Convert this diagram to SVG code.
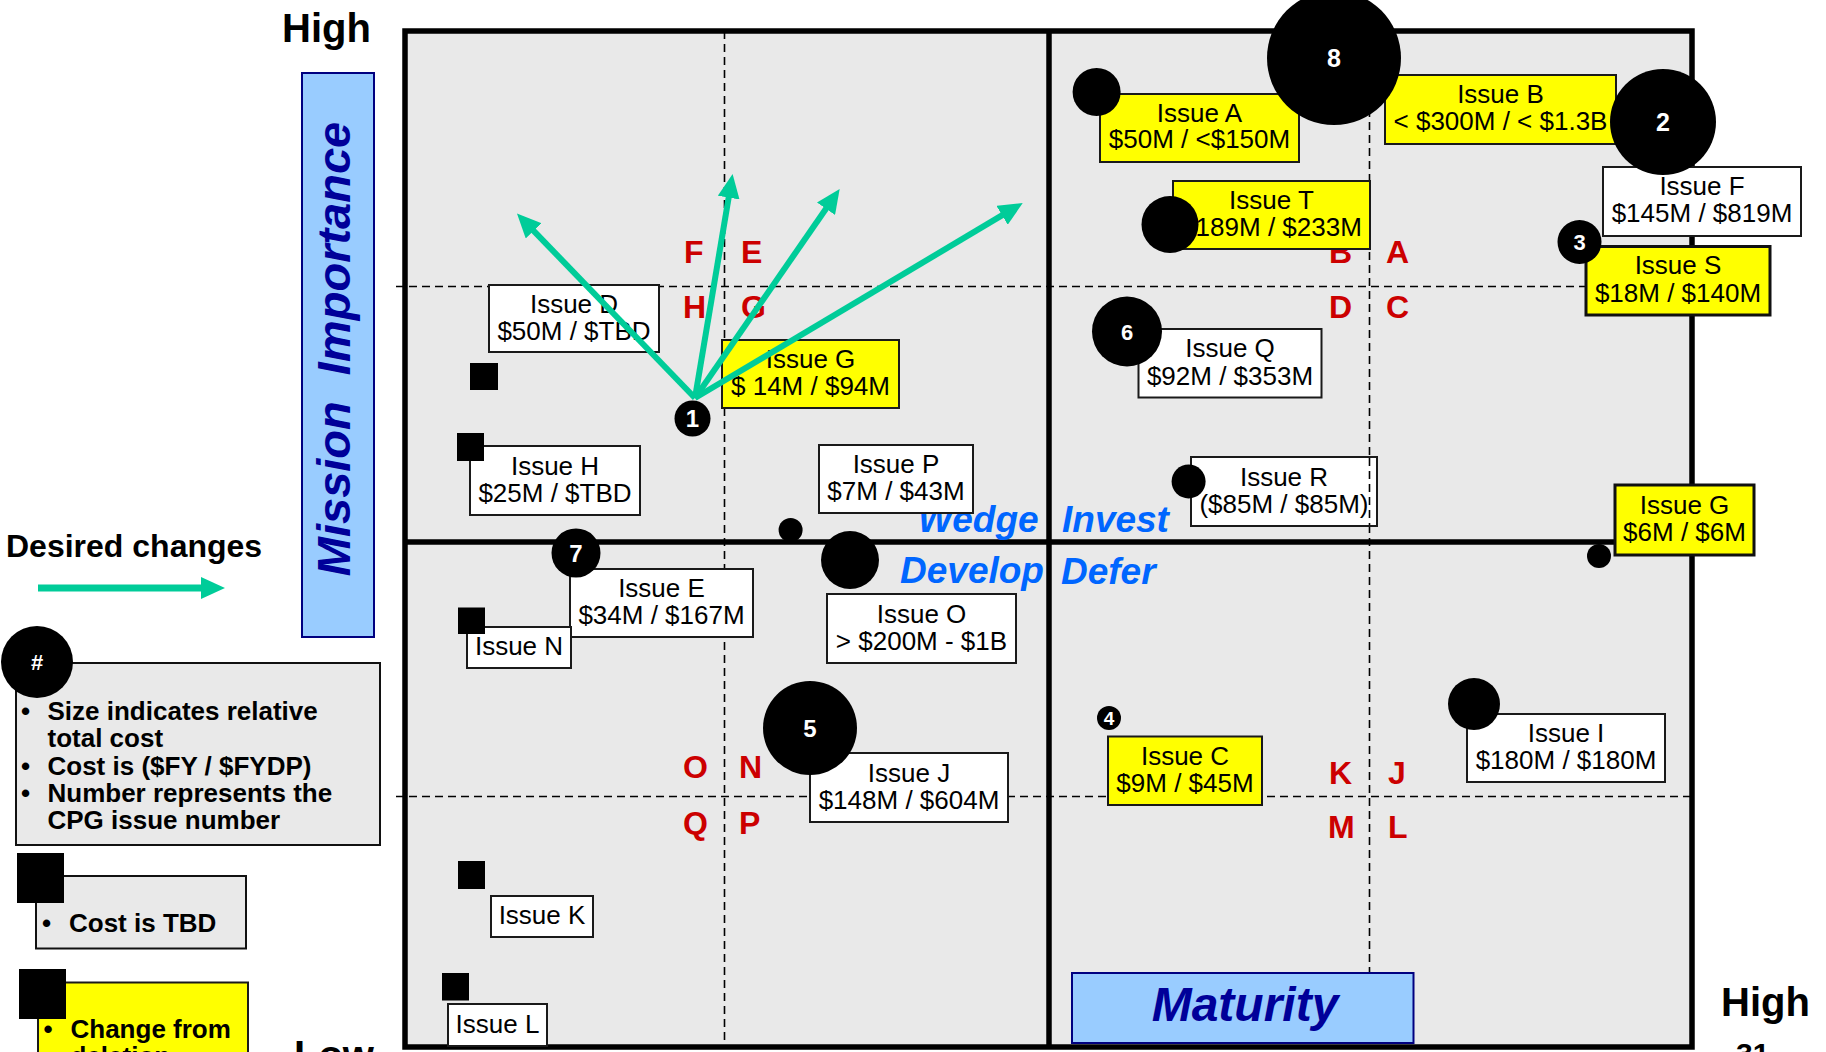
<svg xmlns="http://www.w3.org/2000/svg" width="1826" height="1052" viewBox="0 0 1826 1052">
  <defs>
    <style>
      .axis { font-family: "Liberation Sans", Arial, sans-serif; font-weight: bold; font-size: 40px; fill: #000; }
      .frame { fill: none; stroke: #000; stroke-width: 5.5; }
      .mid { stroke: #000; stroke-width: 5.5; }
      .dash { stroke: #000; stroke-width: 1.6; stroke-dasharray: 8 5; fill: none; }
      .bw { fill: #fff; stroke: #1a1a1a; stroke-width: 2; }
      .by { fill: #ffff00; stroke: #1a1a1a; stroke-width: 2; }
      .by3 { fill: #ffff00; stroke: #111; stroke-width: 3; }
      .lbl { font-family: "Liberation Sans", Arial, sans-serif; font-size: 26px; fill: #000; text-anchor: middle; }
      .dot { fill: #000; }
      .num { font-family: "Liberation Sans", Arial, sans-serif; font-weight: bold; font-size: 24px; fill: #fff; text-anchor: middle; }
      .zone { font-family: "Liberation Sans", Arial, sans-serif; font-weight: bold; font-size: 32px; fill: #cc0000; }
      .phase { font-family: "Liberation Sans", Arial, sans-serif; font-weight: bold; font-style: italic; font-size: 37px; fill: #0066ff; }
      .title { font-family: "Liberation Sans", Arial, sans-serif; font-weight: bold; font-style: italic; fill: #000099; }
      .band { fill: #99ccff; stroke: #000080; stroke-width: 2; }
      .legend { font-family: "Liberation Sans", Arial, sans-serif; font-weight: bold; font-size: 26px; fill: #000; }
      .gray { fill: #e9e9e9; stroke: #111; stroke-width: 2; }
      .move { stroke: #00cc99; stroke-width: 6; fill: none; }
    </style>
    <marker id="head" markerUnits="userSpaceOnUse" viewBox="0 0 24 22" markerWidth="24" markerHeight="22" refX="10" refY="11" orient="auto">
      <path d="M0,0 L24,11 L0,22 Z" fill="#00cc99"/>
    </marker>
  </defs>

  <rect width="1826" height="1052" fill="#fff"/>

  <!-- axis captions -->
  <text class="axis" x="282" y="42">High</text>
  <text class="axis" x="294" y="1069">Low</text>
  <text class="axis" x="1721" y="1016">High</text>
  <text class="axis" x="1736" y="1064" style="font-size:30px">31</text>

  <!-- vertical axis band -->
  <g id="mission-importance">
    <rect class="band" x="302" y="73" width="72" height="564"/>
    <text class="title" x="350" y="349" style="font-size:47px" text-anchor="middle" transform="rotate(-90 350 349)" xml:space="preserve">Mission  Importance</text>
  </g>

  <!-- chart area: background, sub-grid, quadrant dividers -->
  <g id="grid">
    <rect x="405" y="31" width="1287" height="1016" fill="#e9e9e9"/>
    <line class="dash" x1="724.5" y1="31" x2="724.5" y2="1047"/>
    <line class="dash" x1="1369.5" y1="31" x2="1369.5" y2="1047"/>
    <line class="dash" x1="396" y1="286.5" x2="1692" y2="286.5"/>
    <line class="dash" x1="396" y1="796.5" x2="1692" y2="796.5"/>
    <line class="mid" x1="1049" y1="31" x2="1049" y2="1047"/>
    <line class="mid" x1="405" y1="542" x2="1692" y2="542"/>
    <rect class="frame" x="405" y="31" width="1287" height="1016"/>
  </g>

  <!-- sub-quadrant letters -->
  <g id="zones">
    <text class="zone" x="684" y="263">F</text>
    <text class="zone" x="741" y="263">E</text>
    <text class="zone" x="683" y="318">H</text>
    <text class="zone" x="741" y="318">G</text>
    <text class="zone" x="1329" y="263">B</text>
    <text class="zone" x="1386" y="263">A</text>
    <text class="zone" x="1329" y="318">D</text>
    <text class="zone" x="1386" y="318">C</text>
    <text class="zone" x="683" y="778">O</text>
    <text class="zone" x="739" y="778">N</text>
    <text class="zone" x="683" y="834">Q</text>
    <text class="zone" x="739" y="834">P</text>
    <text class="zone" x="1329" y="784">K</text>
    <text class="zone" x="1388" y="784">J</text>
    <text class="zone" x="1328" y="838">M</text>
    <text class="zone" x="1388" y="838">L</text>
  </g>

  <!-- quadrant names -->
  <g id="phases">
    <text class="phase" x="918" y="532">Wedge</text>
    <text class="phase" x="1062" y="532">Invest</text>
    <text class="phase" x="900" y="583">Develop</text>
    <text class="phase" x="1061" y="584">Defer</text>
  </g>

  <!-- issues -->
  <g id="issue-d">
    <rect class="bw" x="489" y="285" width="170" height="67"/>
    <text class="lbl"><tspan x="574" y="313">Issue D</tspan><tspan x="574" y="340">$50M / $TBD</tspan></text>
    <rect class="dot" x="470" y="363" width="28" height="27"/>
  </g>
  <g id="issue-g-left">
    <rect class="by" x="722" y="340" width="177" height="68"/>
    <text class="lbl"><tspan x="810.5" y="368">Issue G</tspan><tspan x="810.5" y="395">$ 14M / $94M</tspan></text>
  </g>
  <g id="issue-h">
    <rect class="bw" x="470" y="446" width="170" height="69"/>
    <text class="lbl"><tspan x="555" y="475">Issue H</tspan><tspan x="555" y="502">$25M / $TBD</tspan></text>
    <rect class="dot" x="457" y="433" width="27" height="28"/>
  </g>
  <g id="issue-p">
    <rect class="bw" x="819" y="445" width="154" height="68"/>
    <text class="lbl"><tspan x="896" y="473">Issue P</tspan><tspan x="896" y="500">$7M / $43M</tspan></text>
    <circle class="dot" cx="790.6" cy="530" r="12"/>
  </g>
  <g id="issue-e">
    <rect class="bw" x="570" y="569" width="183" height="68"/>
    <text class="lbl"><tspan x="661.5" y="597">Issue E</tspan><tspan x="661.5" y="624">$34M / $167M</tspan></text>
    <circle class="dot" cx="576" cy="553" r="24.5"/>
    <text class="num" x="576" y="561.5">7</text>
  </g>
  <g id="issue-n">
    <rect class="bw" x="467" y="627" width="104" height="41"/>
    <text class="lbl" x="519" y="655">Issue N</text>
    <rect class="dot" x="458" y="607.5" width="27" height="26.5"/>
  </g>
  <g id="issue-o">
    <rect class="bw" x="827" y="594" width="189" height="69"/>
    <text class="lbl"><tspan x="921.5" y="622.5">Issue O</tspan><tspan x="921.5" y="649.5">&gt; $200M - $1B</tspan></text>
    <circle class="dot" cx="850" cy="560" r="29"/>
  </g>
  <g id="issue-j">
    <rect class="bw" x="810" y="753" width="198" height="69"/>
    <text class="lbl"><tspan x="909" y="781.5">Issue J</tspan><tspan x="909" y="808.5">$148M / $604M</tspan></text>
    <circle class="dot" cx="810" cy="728" r="47"/>
    <text class="num" x="810" y="736.5">5</text>
  </g>
  <g id="issue-k">
    <rect class="bw" x="491" y="896" width="102" height="41"/>
    <text class="lbl" x="542" y="924">Issue K</text>
    <rect class="dot" x="458" y="861" width="27" height="28"/>
  </g>
  <g id="issue-l">
    <rect class="bw" x="448" y="1004" width="99" height="42"/>
    <text class="lbl" x="497.5" y="1032.5">Issue L</text>
    <rect class="dot" x="442" y="973" width="27" height="27.5"/>
  </g>
  <g id="issue-a">
    <rect class="by" x="1100" y="94" width="199" height="68"/>
    <text class="lbl"><tspan x="1199.5" y="121.5">Issue A</tspan><tspan x="1199.5" y="148">$50M / &lt;$150M</tspan></text>
    <circle class="dot" cx="1096.6" cy="92" r="24"/>
  </g>
  <g id="issue-b">
    <rect class="by" x="1385" y="75" width="231" height="69"/>
    <text class="lbl"><tspan x="1500.5" y="103">Issue B</tspan><tspan x="1500.5" y="130">&lt; $300M / &lt; $1.3B</tspan></text>
  </g>
  <g id="issue-f">
    <rect class="bw" x="1603" y="167" width="198" height="69"/>
    <text class="lbl"><tspan x="1702" y="195">Issue F</tspan><tspan x="1702" y="222">$145M / $819M</tspan></text>
  </g>
  <g id="cpg-8">
    <circle class="dot" cx="1334" cy="58" r="67"/>
    <text class="num" x="1334" y="67" style="font-size:25px">8</text>
  </g>
  <g id="cpg-2">
    <circle class="dot" cx="1663" cy="122" r="53"/>
    <text class="num" x="1663" y="131" style="font-size:25px">2</text>
  </g>
  <g id="issue-t">
    <rect class="by" x="1173" y="181" width="197" height="68"/>
    <text class="lbl"><tspan x="1271.5" y="209">Issue T</tspan><tspan x="1271.5" y="236">$189M / $233M</tspan></text>
    <circle class="dot" cx="1170" cy="224.5" r="28.5"/>
  </g>
  <g id="issue-s">
    <rect class="by3" x="1586" y="246.5" width="184" height="68.5"/>
    <text class="lbl"><tspan x="1678" y="274">Issue S</tspan><tspan x="1678" y="301.5">$18M / $140M</tspan></text>
    <circle class="dot" cx="1579.5" cy="242" r="22"/>
    <text class="num" x="1579.5" y="250" style="font-size:22px">3</text>
  </g>
  <g id="issue-q">
    <rect class="bw" x="1138.5" y="329" width="183" height="68.5"/>
    <text class="lbl"><tspan x="1230" y="357">Issue Q</tspan><tspan x="1230" y="384.5">$92M / $353M</tspan></text>
    <circle class="dot" cx="1127" cy="331.5" r="35"/>
    <text class="num" x="1127" y="339.5" style="font-size:22px">6</text>
  </g>
  <g id="issue-r">
    <rect class="bw" x="1191" y="457" width="186" height="69"/>
    <text class="lbl"><tspan x="1284" y="485.5">Issue R</tspan><tspan x="1284" y="512.5">($85M / $85M)</tspan></text>
    <line class="dash" x1="1369.5" y1="458" x2="1369.5" y2="525"/>
    <circle class="dot" cx="1188.6" cy="481.4" r="17"/>
  </g>
  <g id="issue-g-right">
    <rect class="by3" x="1615" y="485" width="139" height="70"/>
    <text class="lbl"><tspan x="1684.5" y="514">Issue G</tspan><tspan x="1684.5" y="541">$6M / $6M</tspan></text>
    <circle class="dot" cx="1599" cy="556" r="12"/>
  </g>
  <g id="issue-c">
    <rect class="by" x="1108" y="736.5" width="154" height="68.5"/>
    <text class="lbl"><tspan x="1185" y="764.5">Issue C</tspan><tspan x="1185" y="792">$9M / $45M</tspan></text>
    <circle class="dot" cx="1109" cy="718" r="12"/>
    <text class="num" x="1109" y="725" style="font-size:19px">4</text>
  </g>
  <g id="issue-i">
    <rect class="bw" x="1467" y="714" width="198" height="68"/>
    <text class="lbl"><tspan x="1566" y="742">Issue I</tspan><tspan x="1566" y="769">$180M / $180M</tspan></text>
    <circle class="dot" cx="1474" cy="704" r="26"/>
  </g>
  <g id="cpg-1">
    <circle class="dot" cx="692.5" cy="418.5" r="18"/>
    <text class="num" x="692.5" y="427">1</text>
  </g>

  <!-- horizontal axis band -->
  <g id="maturity">
    <rect class="band" x="1072" y="973" width="341.5" height="70"/>
    <text class="title" x="1245" y="1021" style="font-size:48px" text-anchor="middle">Maturity</text>
  </g>

  <!-- desired moves out of issue 1 -->
  <g id="connectors">
    <line class="move" x1="695" y1="398" x2="526.7" y2="223.6" marker-end="url(#head)"/>
    <line class="move" x1="695" y1="398" x2="730.3" y2="187.8" marker-end="url(#head)"/>
    <line class="move" x1="695" y1="398" x2="831.7" y2="200.5" marker-end="url(#head)"/>
    <line class="move" x1="695" y1="398" x2="1010.7" y2="210.2" marker-end="url(#head)"/>
  </g>

  <!-- key -->
  <g id="key-arrow">
    <text class="legend" x="6" y="557" style="font-size:32px">Desired changes</text>
    <line class="move" x1="38" y1="588" x2="211" y2="588" style="stroke-width:7" marker-end="url(#head)"/>
  </g>
  <g id="key-circle">
    <rect class="gray" x="16" y="663" width="364" height="182"/>
    <circle class="dot" cx="37" cy="662" r="36"/>
    <text class="num" x="37" y="670" style="font-size:22px">#</text>
    <text class="legend">
      <tspan x="21" y="720">•</tspan><tspan x="47.5" y="720">Size indicates relative</tspan>
      <tspan x="47.5" y="746.5">total cost</tspan>
      <tspan x="21" y="774.5">•</tspan><tspan x="47.5" y="774.5">Cost is ($FY / $FYDP)</tspan>
      <tspan x="21" y="801.5">•</tspan><tspan x="47.5" y="801.5">Number represents the</tspan>
      <tspan x="47.5" y="828.5">CPG issue number</tspan>
    </text>
  </g>
  <g id="key-tbd">
    <rect class="gray" x="36" y="876" width="210" height="72.5"/>
    <rect class="dot" x="17" y="853" width="47" height="50"/>
    <text class="legend"><tspan x="42" y="932">•</tspan><tspan x="69" y="932">Cost is TBD</tspan></text>
  </g>
  <g id="key-change">
    <rect class="by" x="38" y="982.5" width="210" height="90"/>
    <rect class="dot" x="19" y="969" width="47" height="50"/>
    <text class="legend"><tspan x="43.5" y="1038">•</tspan><tspan x="70.5" y="1038">Change from</tspan><tspan x="70.5" y="1065">deletion</tspan></text>
  </g>
</svg>
